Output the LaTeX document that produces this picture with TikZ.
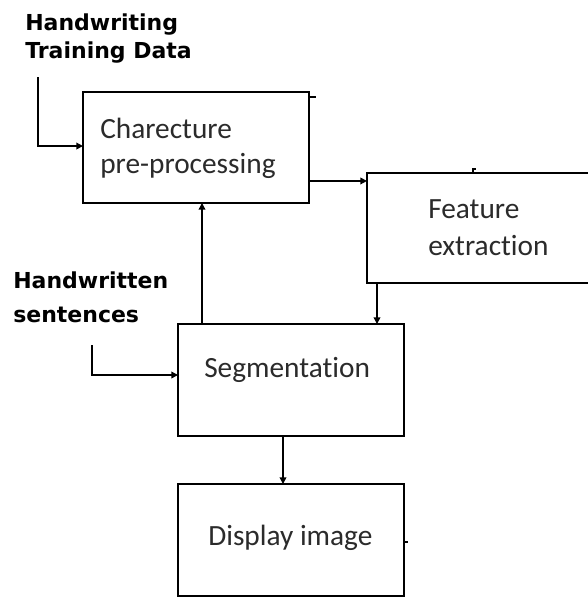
\documentclass[tikz,border=0pt]{standalone}
\usepackage{fontspec}
\usetikzlibrary{arrows.meta}
\newfontfamily\boxfont[Ligatures=NoCommon]{Carlito}
\newfontfamily\labfont{DejaVu Sans}
\definecolor{boxtext}{HTML}{2B2B2B}
\tikzset{
  stage/.style={draw=black, line width=1.3pt, rectangle, inner sep=0pt, outer sep=0pt, fill=white},
  boxtxt/.style={anchor=base west, inner sep=0pt, text=boxtext, font=\boxfont\fontsize{22pt}{26pt}\selectfont},
  labtxt/.style={anchor=base west, inner sep=0pt, text=black, font=\labfont\bfseries\fontsize{16.5pt}{20pt}\selectfont},
  arr/.style={draw=black, line width=1.1pt, -{Triangle[length=5pt,width=5pt]}},
  stub/.style={draw=black, line width=1.1pt}
}
\begin{document}
\begin{tikzpicture}[x=0.75pt,y=-0.75pt]
\clip (0,0) rectangle (588,597);
\fill[white] (0,0) rectangle (588,597);

% process boxes
\node[stage, minimum width=226*0.75pt, minimum height=111*0.75pt] (b1) at (196,147.5) {};
\node[stage, minimum width=233*0.75pt, minimum height=110*0.75pt] (b2) at (483.5,228) {};
\node[stage, minimum width=226*0.75pt, minimum height=112*0.75pt] (b3) at (291,380) {};
\node[stage, minimum width=226*0.75pt, minimum height=112*0.75pt] (b4) at (291,540) {};

% box captions
\node[boxtxt] (t1a) at (100,138) {Charecture};
\node[boxtxt] (t1b) at (100,173) {pre-processing};
\node[boxtxt] (t2a) at (428,218) {Feature};
\node[boxtxt] (t2b) at (428,255) {extraction};
\node[boxtxt] (t3) at (204,377) {Segmentation};
\node[boxtxt] (t4) at (208,545) {Display image};

% input labels
\node[labtxt] (l1a) at (25,30) {Handwriting};
\node[labtxt] (l1b) at (25,58) {Training Data};
\node[labtxt] (l2a) at (13,288) {Handwritten};
\node[labtxt] (l2b) at (13,322) {sentences};

% input feeds
\coordinate (train) at (38,77);
\coordinate (sent) at (92,345);
\draw[arr] (train) |- ([yshift=1.1pt]b1.west);
\draw[arr] (sent) |- ([yshift=3.75pt]b3.west);

% flow between stages
\draw[arr] ([yshift=-25.1pt]b1.east) coordinate (p) -- (p -| b2.west);
\draw[arr] ([xshift=7.5pt]b2.south west) coordinate (q) -- (q |- b3.north);
\draw[arr] ([xshift=18pt]b3.north west) coordinate (r) -- (r |- b1.south);
\draw[arr] ([xshift=78.75pt]b3.south west) coordinate (s) -- (s |- b4.north);

% small stray marks on the box outlines
\draw[stub] ([yshift=-3.75pt]b1.north east) -- ++(7,0);
\draw[stub] ([xshift=79.5pt]b2.north west) -- ++(0,-4) -- ++(3,0);
\draw[stub] ([yshift=-1.5pt]b4.east) -- ++(4,0);
\end{tikzpicture}
\end{document}
